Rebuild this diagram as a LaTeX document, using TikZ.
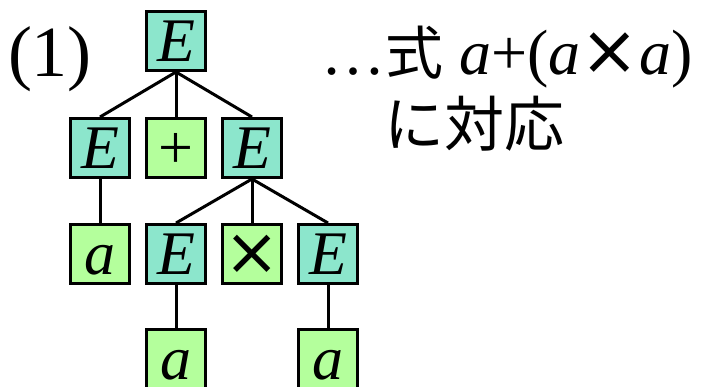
\documentclass[tikz,border=0pt]{standalone}
\usepackage{fontspec}
\setmainfont{Liberation Serif}
\newfontfamily\jpfont{Noto Sans CJK JP}
\newfontfamily\symfont{DejaVu Sans}
\usetikzlibrary{positioning}
\definecolor{NtBlue}{RGB}{140,230,204}
\definecolor{TmGreen}{RGB}{180,255,156}
\newcommand{\bigfont}{\fontsize{62}{62}\selectfont}
\newcommand{\tms}{{\symfont ×}}

\begin{document}
\begin{tikzpicture}[x=1pt,y=-1pt,
  ntbox/.style={draw,line width=3pt,fill=NtBlue,minimum size=59pt,inner sep=0pt,
    text height=41pt,text depth=0pt,font=\bigfont},
  tmbox/.style={ntbox,fill=TmGreen},
  edge/.style={line width=3pt}]
  \useasboundingbox (0,0) rectangle (702,387);

  % ---------- 導出木 ----------
  \node[ntbox] (root) at (176,41) {\textit{E}};
  \node[ntbox] (eL) at (100,148) {\textit{E}};
  \node[tmbox] (plus) at (176,148) {+};
  \node[ntbox] (eR) at (252,148) {\textit{E}};
  \node[tmbox] (aL) at (100,254) {\textit{a}};
  \node[ntbox] (eM) at (176,254) {\textit{E}};
  \node[tmbox,font=\fontsize{66}{66}\selectfont] (times) at (252,254) {\tms};
  \node[ntbox] (eRR) at (328,254) {\textit{E}};
  \node[tmbox] (aM) at (176,359) {\textit{a}};
  \node[tmbox] (aR) at (328,359) {\textit{a}};

  % 枝
  \foreach \p/\c in {root/eL,root/plus,root/eR,eL/aL,eR/eM,eR/times,eR/eRR,eM/aM,eRR/aR}
    \draw[edge] (\p.south) -- (\c.north);

  % 説明
  \node[anchor=base,font=\fontsize{72}{72}\selectfont] (num) at (50,77) {(1)};
  \node[anchor=base west,inner sep=0pt,font=\fontsize{64}{64}\selectfont] (expr) at (321,75)
    {…{\jpfont\fontsize{58}{58}\selectfont 式} \textit{a}+(\textit{a}{\fontsize{70}{64}\selectfont\tms}\textit{a})};
  \node[anchor=base west,inner sep=0pt,font=\jpfont\fontsize{60}{60}\selectfont] (corr)
    at (384,147) {に対応};
\end{tikzpicture}
\end{document}
